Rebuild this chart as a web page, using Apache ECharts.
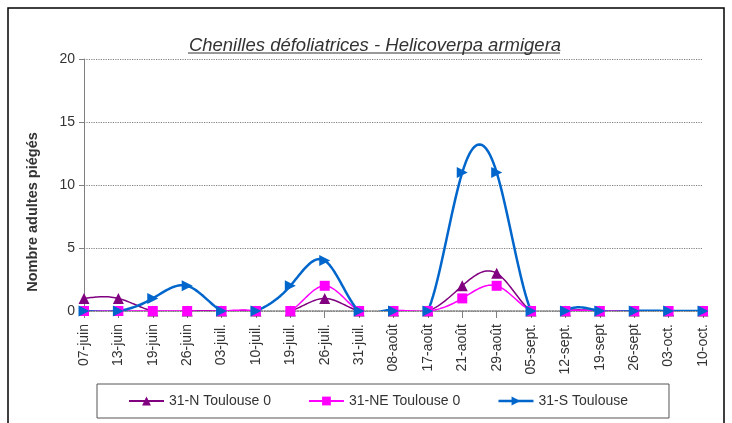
<!DOCTYPE html>
<html>
<head>
<meta charset="utf-8">
<script src="https://cdn.jsdelivr.net/npm/echarts@6/dist/echarts.min.js"></script>
<style>
  html, body { margin: 0; padding: 0; background: #fff; }
  #main { width: 732px; height: 423px; }
</style>
</head>
<body>
<div id="main"></div>
<script>
// dates de relevé
var dates = ['07-juin', '13-juin', '19-juin', '26-juin', '03-juil.', '10-juil.', '19-juil.', '26-juil.', '31-juil.', '08-août',
  '17-août', '21-août', '29-août', '05-sept.', '12-sept.', '19-sept', '26-sept', '03-oct.', '10-oct.'];

// captures par piège
var nToulouse = [1, 1, 0, 0, 0, 0, 0, 1, 0, 0, 0, 2, 3, 0, 0, 0, 0, 0, 0];
var neToulouse = [0, 0, 0, 0, 0, 0, 0, 2, 0, 0, 0, 1, 2, 0, 0, 0, 0, 0, 0];
var sToulouse = [0, 0, 1, 2, 0, 0, 2, 4, 0, 0, 0, 11, 11, 0, 0, 0, 0, 0, 0];

var yTicks = [0, 5, 10, 15, 20];

var font = 'Liberation Sans';
var purple = '#800080', magenta = '#ff00ff', blue = '#0066cc';

// spline cubique naturelle (pas constant) : dérivées secondes
function splineM(ys) {
	var n = ys.length;
	var M = [];
	for (var i = 0; i < n; i++) M.push(0);
	if (n < 3) return M;
	var cp = [], dp = [];
	for (var i = 1; i < n - 1; i++) {
		var d = 6 * (ys[i + 1] - 2 * ys[i] + ys[i - 1]);
		var a = (i > 1) ? 1 : 0;
		var prevC = (i > 1) ? cp[i - 2] : 0;
		var prevD = (i > 1) ? dp[i - 2] : 0;
		var m = 4 - a * prevC;
		cp.push(1 / m);
		dp.push((d - a * prevD) / m);
	}
	for (var i = n - 2; i >= 1; i--) {
		M[i] = dp[i - 1] - cp[i - 1] * M[i + 1];
	}
	return M;
}

// courbe lissée dessinée avec les coordonnées de l'axe
function curveSeries(name, ys, color, width, z) {
	var M = splineM(ys);
	return {
		name: name + ' (courbe)',
		type: 'custom',
		z: z,
		silent: true,
		data: [[0, 0]],
		renderItem: function (params, api) {
			var pts = [];
			var steps = 20;
			for (var i = 0; i < ys.length - 1; i++) {
				var x0 = api.coord([i, 0])[0];
				var x1 = api.coord([i + 1, 0])[0];
				for (var k = (i === 0 ? 0 : 1); k <= steps; k++) {
					var t = k / steps;
					var u = 1 - t;
					var v = u * ys[i] + t * ys[i + 1] +
						((u * u * u - u) * M[i] + (t * t * t - t) * M[i + 1]) / 6;
					pts.push([x0 + t * (x1 - x0), api.coord([i, v])[1]]);
				}
			}
			var cs = params.coordSys;
			return {
				type: 'group',
				clipPath: { type: 'rect', shape: { x: cs.x, y: cs.y, width: cs.width, height: cs.height } },
				children: [{
					type: 'polyline',
					shape: { points: pts },
					style: { stroke: color, lineWidth: width, fill: null, lineJoin: 'round' }
				}]
			};
		}
	};
}

var myChart = echarts.init(document.getElementById('main'));

var option = {
	animation: false,
	textStyle: { fontFamily: font },
	title: {
		text: 'Chenilles défoliatrices - Helicoverpa armigera',
		left: 370,
		top: 31,
		textAlign: 'center',
		textStyle: {
			fontFamily: font,
			fontSize: 18.5,
			fontStyle: 'italic',
			fontWeight: 'normal',
			color: '#333'
		}
	},
	graphic: [
		// cadre
		{
			type: 'rect',
			shape: { x: 8, y: 8, width: 716, height: 440 },
			style: { fill: null, stroke: '#000', lineWidth: 1.5 },
			silent: true
		},
		// soulignement du titre
		{
			type: 'line',
			shape: { x1: 188, y1: 53, x2: 560, y2: 53 },
			style: { stroke: '#333', lineWidth: 1 },
			silent: true
		},
		// titre de l'axe Y
		{
			type: 'text',
			x: 33,
			y: 212,
			rotation: Math.PI / 2,
			style: {
				text: 'Nombre adultes piégés',
				font: 'bold 14.5px "Liberation Sans"',
				fill: '#333',
				align: 'center',
				verticalAlign: 'middle'
			},
			silent: true
		}
	],
	legend: {
		left: 97,
		top: 384,
		padding: [10, 41, 10, 31],
		itemGap: 37,
		itemWidth: 35,
		itemHeight: 11,
		borderColor: '#555',
		borderWidth: 1,
		textStyle: { fontFamily: font, fontSize: 14, color: '#333' },
		data: [
			{ name: '31-N Toulouse 0', lineStyle: { color: purple, width: 2, opacity: 1 } },
			{ name: '31-NE Toulouse 0', lineStyle: { color: magenta, width: 2, opacity: 1 } },
			{ name: '31-S Toulouse', lineStyle: { color: blue, width: 2.5, opacity: 1 } }
		]
	},
	grid: {
		left: 84,
		right: 29,
		top: 59,
		bottom: 112
	},
	xAxis: {
		type: 'category',
		data: dates,
		boundaryGap: false,
		axisLine: { lineStyle: { color: '#808080', width: 1.5, type: 'dotted' } },
		axisTick: { show: true, length: 7, lineStyle: { color: '#808080' } },
		axisLabel: {
			rotate: 90,
			interval: 0,
			margin: 13,
			fontFamily: font,
			fontSize: 14,
			color: '#333'
		}
	},
	yAxis: {
		type: 'value',
		min: 0,
		max: 20,
		interval: 5,
		axisLine: { show: true, lineStyle: { color: '#808080' } },
		axisTick: { show: true, inside: false, length: 5, lineStyle: { color: '#808080' } },
		axisLabel: {
			fontFamily: font,
			fontSize: 14,
			color: '#333',
			margin: 9,
			customValues: yTicks
		},
		splitLine: { lineStyle: { color: '#808080', type: 'dotted', width: 1.2 } }
	},
	series: [
		curveSeries('31-N Toulouse 0', nToulouse, purple, 1.5, 2),
		curveSeries('31-NE Toulouse 0', neToulouse, magenta, 1.5, 2),
		curveSeries('31-S Toulouse', sToulouse, blue, 2.5, 2),
		{
			name: '31-N Toulouse 0',
			type: 'line',
			z: 3,
			data: nToulouse,
			symbol: 'triangle',
			symbolSize: 11,
			itemStyle: { color: purple },
			lineStyle: { color: purple, width: 0, opacity: 0 }
		},
		{
			name: '31-NE Toulouse 0',
			type: 'line',
			z: 3,
			data: neToulouse,
			symbol: 'rect',
			symbolSize: 10,
			itemStyle: { color: magenta },
			lineStyle: { color: magenta, width: 0, opacity: 0 }
		},
		{
			name: '31-S Toulouse',
			type: 'line',
			z: 3,
			data: sToulouse,
			symbol: 'triangle',
			symbolRotate: -90,
			symbolSize: 11,
			itemStyle: { color: blue },
			lineStyle: { color: blue, width: 0, opacity: 0 }
		}
	]
};

myChart.setOption(option);
</script>
</body>
</html>
